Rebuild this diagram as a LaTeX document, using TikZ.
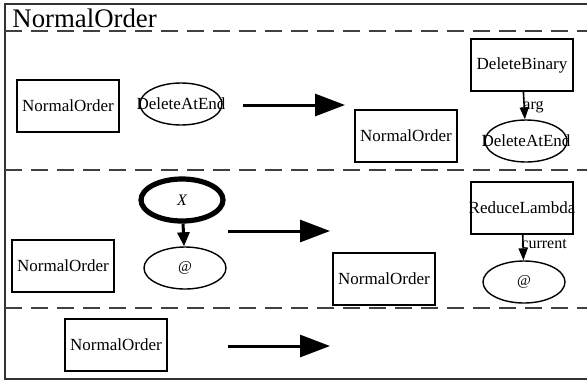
\documentclass[tikz,border=0pt]{standalone}
\usepackage{fontspec}
\setmainfont{Liberation Serif}
\usetikzlibrary{shapes.geometric}
\usetikzlibrary{arrows.meta}

\tikzset{
  termbox/.style={draw, line width=0.8pt, minimum width=51pt, minimum height=26pt, inner sep=0pt, font=\fontsize{8.5}{10}\selectfont},
  termnode/.style={draw, ellipse, line width=0.7pt, minimum width=41pt, minimum height=21pt, inner sep=0pt, font=\fontsize{8.5}{10}\selectfont},
  rewrite/.style={line width=1.5pt, -{Triangle[length=15pt,width=11pt]}},
  child/.style={line width=0.8pt, -{Triangle[length=6pt,width=4.5pt]}},
  edgelabel/.style={anchor=west, inner sep=0pt, font=\fontsize{8}{10}\selectfont},
  rowsep/.style={dash pattern=on 8.5pt off 4.5pt, line width=0.6pt, black!75}
}

\begin{document}
\begin{tikzpicture}[x=0.5pt, y=-0.5pt]
  \useasboundingbox (0,0) rectangle (587,381);

  % frame and rows
  \draw [line width=0.6pt, black!80] (590,4) -- (5,4) -- (5,379) -- (590,379);
  \node [anchor=base west, inner sep=0pt, font=\fontsize{13.4}{15}\selectfont] (title) at (12,27) {NormalOrder};
  \draw [rowsep] (5,31) -- (587,31);
  \draw [rowsep] (5,170) -- (587,170);
  \draw [rowsep] (5,308) -- (587,308);

  % row 1
  \node [termbox] (no1) at (68,106) {NormalOrder};
  \node [termnode] (dae1) at (181,104) {\makebox[0pt]{DeleteAtEnd}};
  \coordinate (r1s) at (243,105);
  \coordinate (r1e) at (345,105);
  \draw [rewrite] (r1s) -- (r1e);
  \node [termbox] (no2) at (406,136) {NormalOrder};
  \node [termbox] (db) at (522,65) {DeleteBinary};
  \node [termnode] (dae2) at (526,141) {\makebox[0pt]{DeleteAtEnd}};
  \draw [child] (db) -- (dae2);
  \node [edgelabel] (arglab) at (523,107) {arg};

  % row 2
  \node [termbox] (no3) at (63,266) {NormalOrder};
  \node [termnode, line width=2.6pt] (x) at (182,200) {\fontsize{8}{10}\selectfont\itshape X};
  \node [termnode] (app1) at (185,268) {\fontsize{7.5}{10}\selectfont @};
  \draw [line width=1.5pt, -{Triangle[length=7pt,width=6pt]}] (x) -- (app1);
  \coordinate (r2s) at (228,231);
  \coordinate (r2e) at (330,231);
  \draw [rewrite] (r2s) -- (r2e);
  \node [termbox] (no4) at (384,279) {NormalOrder};
  \node [termbox] (rl) at (522,208) {\makebox[0pt]{ReduceLambda}};
  \node [termnode] (app2) at (524,282) {\fontsize{7.5}{10}\selectfont @};
  \draw [child] (rl) -- (app2);
  \node [edgelabel] (curlab) at (521,244) {current};

  % row 3
  \node [termbox] (no5) at (116,345) {NormalOrder};
  \coordinate (r3s) at (228,346);
  \coordinate (r3e) at (330,346);
  \draw [rewrite] (r3s) -- (r3e);
\end{tikzpicture}
\end{document}
